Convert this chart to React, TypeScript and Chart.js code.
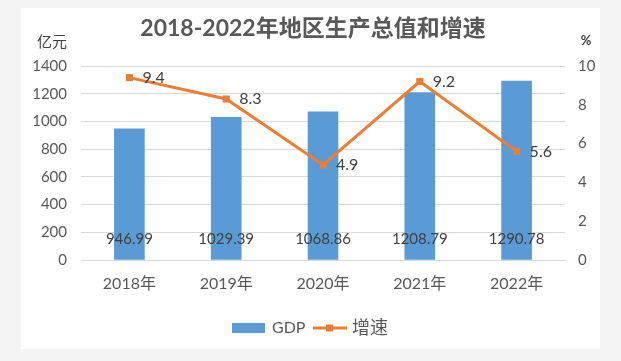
import React, { useEffect, useRef } from "react";
import { Chart, registerables } from "chart.js";

Chart.register(...registerables);

const chartTitle = "2018-2022年地区生产总值和增速";
const leftUnit = "亿元";
const rightUnit = "%";
const categories = ["2018年", "2019年", "2020年", "2021年", "2022年"];
const gdpValues = [946.99, 1029.39, 1068.86, 1208.79, 1290.78];
const gdpLabels = ["946.99", "1029.39", "1068.86", "1208.79", "1290.78"];
const growthValues = [9.4, 8.3, 4.9, 9.2, 5.6];
const growthLabels = ["9.4", "8.3", "4.9", "9.2", "5.6"];
const seriesNames = ["GDP", "增速"];

const FONT = "Lato, 'Noto Sans CJK SC', 'Noto Sans', sans-serif";
const BLUE = "#5B9BD5";
const ORANGE = "#ED7D31";
const TEXT = "#595959";
const DARK = "#404040";

const W = 579;
const H = 341;

const overlayPlugin = {
  id: "overlay",
  afterDatasetsDraw(chart: any) {
    const ctx = chart.ctx;
    ctx.save();
    const barMeta = chart.getDatasetMeta(1);
    ctx.font = `15px ${FONT}`;
    ctx.fillStyle = DARK;
    ctx.textAlign = "center";
    ctx.textBaseline = "middle";
    barMeta.data.forEach((el: any, i: number) => {
      ctx.fillText(gdpLabels[i], el.x, el.base - 20);
    });
    const lineMeta = chart.getDatasetMeta(0);
    ctx.font = `16px ${FONT}`;
    ctx.textAlign = "left";
    lineMeta.data.forEach((el: any, i: number) => {
      ctx.fillText(growthLabels[i], el.x + 13, el.y);
    });
    ctx.restore();
  },
  afterDraw(chart: any) {
    const ctx = chart.ctx;
    ctx.save();
    ctx.fillStyle = TEXT;
    ctx.textBaseline = "middle";
    ctx.textAlign = "center";
    ctx.font = `bold 23px ${FONT}`;
    ctx.fillText(chartTitle, 292, 21);
    ctx.font = `15px ${FONT}`;
    ctx.fillStyle = DARK;
    ctx.fillText(leftUnit, 31, 34);
    ctx.font = `bold 13px ${FONT}`;
    ctx.fillText(rightUnit, 565, 33);

    const ly = 320;
    ctx.fillStyle = BLUE;
    ctx.fillRect(211, ly - 5, 33, 10);
    ctx.fillStyle = TEXT;
    ctx.font = `16px ${FONT}`;
    ctx.textAlign = "left";
    ctx.fillText(seriesNames[0], 251, ly);
    ctx.strokeStyle = ORANGE;
    ctx.lineWidth = 3;
    ctx.beginPath();
    ctx.moveTo(292, ly);
    ctx.lineTo(326, ly);
    ctx.stroke();
    ctx.fillStyle = ORANGE;
    ctx.fillRect(305, ly - 3.5, 7, 7);
    ctx.fillStyle = TEXT;
    ctx.font = `18px ${FONT}`;
    ctx.fillText(seriesNames[1], 331, ly);
    ctx.restore();
  },
};

export default function App() {
  const ref = useRef<HTMLCanvasElement | null>(null);
  useEffect(() => {
    if (!ref.current) return;
    const chart = new Chart(ref.current, {
      type: "bar",
      data: {
        labels: categories,
        datasets: [
          {
            type: "line",
            label: seriesNames[1],
            data: growthValues,
            yAxisID: "y1",
            borderColor: ORANGE,
            backgroundColor: ORANGE,
            borderWidth: 3,
            pointStyle: "rect",
            pointRadius: 5,
            pointBorderWidth: 0,
            tension: 0,
            order: 0,
          } as any,
          {
            type: "bar",
            label: seriesNames[0],
            data: gdpValues,
            yAxisID: "y",
            backgroundColor: BLUE,
            barThickness: 30,
            order: 1,
          },
        ],
      },
      options: {
        responsive: false,
        animation: false,
        layout: { padding: { top: 58, left: 0, right: 0, bottom: 0 } },
        plugins: {
          legend: { display: false },
          title: { display: false },
          tooltip: { enabled: false },
        },
        scales: {
          x: {
            grid: { display: false, drawTicks: false },
            border: { display: true, color: "#D9D9D9" },
            ticks: { color: TEXT, font: { family: FONT, size: 16 }, padding: 14 },
            afterFit: (s: any) => {
              s.height = 89;
            },
          },
          y: {
            position: "left",
            min: 0,
            max: 1400,
            ticks: {
              stepSize: 200,
              color: TEXT,
              font: { family: FONT, size: 15 },
              padding: 14,
              callback: (v: any) => String(v),
            },
            grid: { color: "#D9D9D9", drawTicks: false },
            border: { display: false },
            afterFit: (s: any) => {
              s.width = 60;
            },
          },
          y1: {
            position: "right",
            min: 0,
            max: 10,
            ticks: {
              stepSize: 2,
              color: TEXT,
              font: { family: FONT, size: 15 },
              padding: 13,
              callback: (v: any) => String(v),
            },
            grid: { display: false, drawTicks: false },
            border: { display: false },
            afterFit: (s: any) => {
              s.width = 35;
            },
          },
        },
      },
      plugins: [overlayPlugin],
    });
    return () => chart.destroy();
  }, []);

  return (
    <div
      style={{
        position: "fixed",
        left: 0,
        top: 0,
        width: 621,
        height: 361,
        background: "#F4F4F4",
      }}
    >
      <div
        style={{
          position: "absolute",
          left: 21,
          top: 8,
          width: W,
          height: H,
          background: "#FFFFFF",
        }}
      >
        <canvas ref={ref} width={W} height={H} style={{ display: "block" }} />
      </div>
    </div>
  );
}
